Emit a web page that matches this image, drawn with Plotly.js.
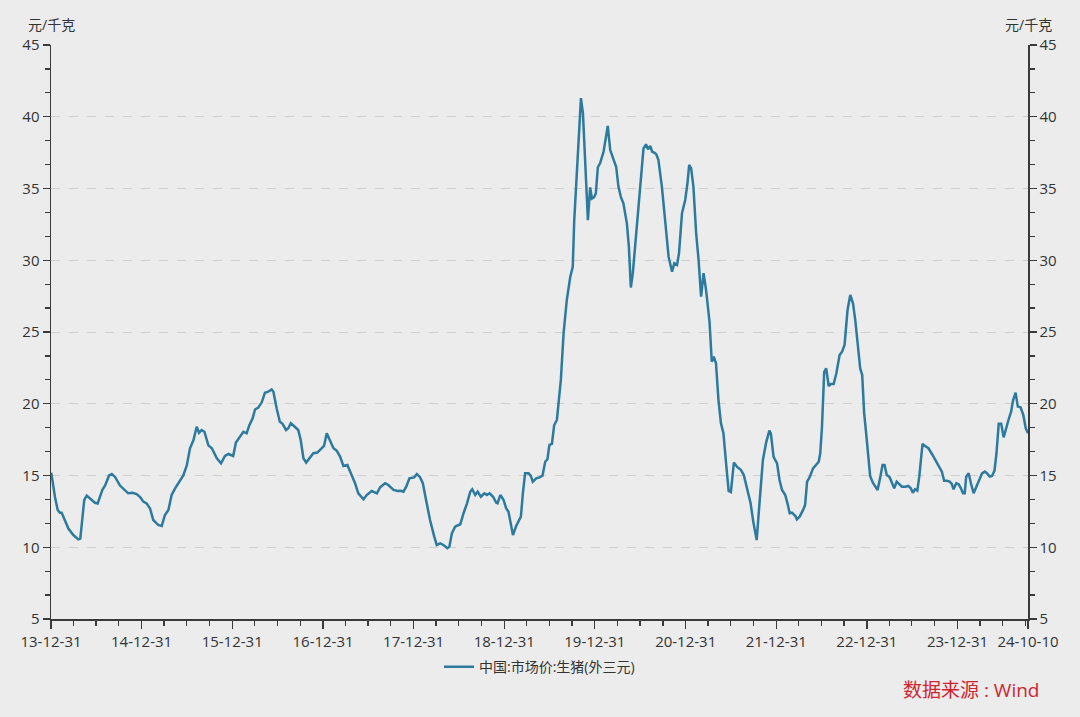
<!DOCTYPE html>
<html>
<head>
<meta charset="utf-8">
<script src="https://cdn.plot.ly/plotly-3.0.1.min.js"></script>
<style>
  html, body { margin: 0; padding: 0; background: #ececec; }
  #chart { width: 1080px; height: 717px; }
</style>
</head>
<body>
<div id="chart"></div>
<script>
// 中国:市场价:生猪(外三元), 元/千克
var d2014 = ['2014-01-01','2014-01-16','2014-01-27','2014-02-05','2014-02-12','2014-02-25','2014-03-11','2014-03-31','2014-04-20','2014-04-28','2014-05-06','2014-05-14','2014-05-24','2014-06-06','2014-06-26','2014-07-07','2014-07-16','2014-07-26','2014-08-06','2014-08-22','2014-09-02','2014-09-15','2014-10-05','2014-10-25','2014-11-07','2014-11-24','2014-12-11','2014-12-25'];
var v2014 = [15.2,13.5,12.6,12.4,12.4,11.9,11.3,10.85,10.55,10.6,11.9,13.3,13.6,13.4,13.1,13.05,13.5,14.0,14.3,15.0,15.1,14.9,14.3,14.0,13.76,13.8,13.7,13.5];

var d2015 = ['2015-01-07','2015-01-20','2015-02-03','2015-02-16','2015-03-08','2015-03-22','2015-04-04','2015-04-18','2015-05-01','2015-05-15','2015-06-04','2015-06-17','2015-07-01','2015-07-14','2015-07-28','2015-08-10','2015-08-19','2015-08-30','2015-09-10','2015-09-26','2015-10-10','2015-10-30','2015-11-16','2015-12-02','2015-12-16'];
var v2015 = [13.18,13.06,12.7,11.9,11.55,11.48,12.25,12.6,13.64,14.1,14.6,15.0,15.7,16.9,17.47,18.4,17.98,18.17,18.05,17.1,16.9,16.2,15.85,16.36,16.5];

var d2016 = ['2016-01-04','2016-01-15','2016-01-27','2016-02-14','2016-02-27','2016-03-09','2016-03-22','2016-04-01','2016-04-14','2016-04-28','2016-05-11','2016-05-24','2016-06-07','2016-06-14','2016-06-27','2016-07-10','2016-07-21','2016-08-04','2016-08-13','2016-08-23','2016-09-05','2016-09-22','2016-10-02','2016-10-13','2016-10-24','2016-11-09','2016-11-22','2016-12-08','2016-12-26'];
var v2016 = [16.36,17.3,17.6,18.05,17.94,18.5,18.97,19.6,19.73,20.1,20.77,20.84,21.0,20.84,19.68,18.75,18.6,18.17,18.29,18.64,18.45,18.17,17.47,16.2,15.9,16.27,16.55,16.6,16.9];

var d2017 = ['2017-01-04','2017-01-15','2017-01-28','2017-02-11','2017-02-24','2017-03-10','2017-03-23','2017-04-08','2017-04-22','2017-05-09','2017-05-22','2017-06-12','2017-06-25','2017-07-15','2017-08-05','2017-08-18','2017-09-07','2017-09-20','2017-10-11','2017-10-27','2017-11-09','2017-11-20','2017-12-01','2017-12-14'];
var v2017 = [17.06,17.94,17.47,16.9,16.73,16.3,15.66,15.73,15.15,14.46,13.76,13.34,13.64,13.92,13.76,14.18,14.46,14.34,14.0,13.92,13.94,13.87,14.22,14.8];

var d2018 = ['2018-01-02','2018-01-13','2018-01-25','2018-02-06','2018-02-19','2018-03-07','2018-03-24','2018-04-03','2018-04-17','2018-04-30','2018-05-16','2018-05-24','2018-06-03','2018-06-16','2018-06-30','2018-07-07','2018-07-20','2018-08-03','2018-08-16','2018-08-24','2018-09-05','2018-09-15','2018-09-28','2018-10-12','2018-10-22','2018-11-02','2018-11-16','2018-11-29','2018-12-04','2018-12-15','2018-12-28'];
var v2018 = [14.87,15.1,14.9,14.46,13.3,11.9,10.74,10.16,10.27,10.16,9.93,10.04,10.97,11.43,11.55,11.6,12.37,13.06,13.87,14.04,13.64,13.87,13.52,13.76,13.64,13.76,13.52,13.1,13.06,13.64,13.3];

var d2019 = ['2019-01-08','2019-01-17','2019-01-24','2019-02-04','2019-02-17','2019-02-26','2019-03-08','2019-03-16','2019-03-25','2019-04-08','2019-04-17','2019-04-25','2019-05-09','2019-05-22','2019-06-03','2019-06-14','2019-06-23','2019-07-01','2019-07-11','2019-07-20','2019-07-31','2019-08-06','2019-08-16','2019-08-27','2019-09-09','2019-09-23','2019-09-29','2019-10-03','2019-10-09','2019-10-17','2019-10-22','2019-10-29','2019-11-05','2019-11-13','2019-11-22','2019-11-26','2019-12-03','2019-12-12','2019-12-19','2019-12-28'];
var v2019 = [12.7,12.48,11.78,10.85,11.48,11.85,12.13,13.76,15.15,15.15,14.97,14.57,14.8,14.87,14.98,15.96,16.13,17.13,17.2,18.5,18.87,19.9,21.66,24.9,27.23,28.85,29.44,29.55,32.8,35.13,36.5,38.85,41.3,40.24,36.76,34.4,32.8,35.08,34.3,34.4];

var d2020 = ['2020-01-04','2020-01-12','2020-01-21','2020-02-04','2020-02-13','2020-02-21','2020-03-02','2020-03-15','2020-03-26','2020-04-04','2020-04-14','2020-04-24','2020-05-08','2020-05-16','2020-05-24','2020-06-01','2020-06-10','2020-06-24','2020-07-07','2020-07-14','2020-07-24','2020-08-01','2020-08-10','2020-08-18','2020-08-26','2020-09-03','2020-09-12','2020-09-26','2020-10-09','2020-10-23','2020-11-06','2020-11-15','2020-11-26','2020-12-04','2020-12-16','2020-12-29'];
var v2020 = [34.66,36.48,36.76,37.56,38.38,39.36,37.68,37.1,36.5,35.13,34.4,33.97,32.57,30.95,28.1,29.1,30.95,33.27,36.3,37.8,38.08,37.73,37.96,37.56,37.5,37.4,37.0,35.13,32.8,30.25,29.2,29.79,29.67,30.48,33.27,34.2];

var d2021 = ['2021-01-07','2021-01-14','2021-01-22','2021-01-31','2021-02-11','2021-02-21','2021-03-03','2021-03-13','2021-03-23','2021-04-06','2021-04-15','2021-04-23','2021-05-02','2021-05-12','2021-05-22','2021-06-01','2021-06-13','2021-06-22','2021-07-01','2021-07-13','2021-07-26','2021-08-10','2021-08-22','2021-09-05','2021-09-18','2021-09-30','2021-10-07','2021-10-13','2021-10-23','2021-10-27','2021-11-07','2021-11-20','2021-12-03','2021-12-09','2021-12-20'];
var v2021 = [35.36,36.64,36.4,35.13,31.9,30.0,27.46,29.1,27.93,25.7,22.93,23.28,22.82,20.26,18.64,17.94,15.6,13.93,13.85,15.9,15.6,15.4,15.03,14.1,13.1,11.7,10.97,10.5,12.8,13.76,16.08,17.29,18.13,17.94,16.3];

var d2022 = ['2022-01-03','2022-01-13','2022-01-23','2022-02-05','2022-02-14','2022-02-23','2022-03-04','2022-03-18','2022-03-24','2022-04-04','2022-04-18','2022-04-26','2022-05-04','2022-05-14','2022-05-28','2022-06-10','2022-06-20','2022-06-26','2022-07-03','2022-07-12','2022-07-20','2022-07-30','2022-08-08','2022-08-19','2022-08-30','2022-09-12','2022-09-22','2022-10-02','2022-10-14','2022-10-25','2022-11-05','2022-11-14','2022-11-25','2022-12-04','2022-12-12','2022-12-20','2022-12-28'];
var v2022 = [15.85,14.69,13.99,13.64,13.06,12.37,12.41,12.18,11.95,12.13,12.6,12.94,14.57,14.87,15.5,15.73,15.96,16.55,18.4,22.23,22.47,21.24,21.38,21.38,22.12,23.4,23.63,24.1,26.53,27.58,27.0,25.84,24.2,22.47,22.0,19.33,17.94];

var d2023 = ['2023-01-04','2023-01-13','2023-01-24','2023-02-02','2023-02-12','2023-02-22','2023-03-04','2023-03-12','2023-03-21','2023-04-01','2023-04-10','2023-04-20','2023-04-30','2023-05-11','2023-05-21','2023-06-03','2023-06-16','2023-06-26','2023-07-04','2023-07-13','2023-07-22','2023-07-30','2023-08-05','2023-08-12','2023-08-22','2023-09-05','2023-09-19','2023-10-02','2023-10-15','2023-10-29','2023-11-07','2023-11-18','2023-11-29','2023-12-08','2023-12-15','2023-12-26'];
var v2023 = [16.55,14.97,14.5,14.22,13.99,14.8,15.73,15.73,15.03,14.9,14.46,14.11,14.57,14.41,14.22,14.22,14.27,14.11,13.8,14.04,13.94,14.92,16.08,17.2,17.06,16.9,16.5,16.08,15.62,15.27,14.64,14.64,14.57,14.41,14.04,14.46];

var d2024 = ['2024-01-04','2024-01-14','2024-01-22','2024-01-29','2024-02-04','2024-02-14','2024-02-23','2024-03-05','2024-03-19','2024-03-29','2024-04-08','2024-04-19','2024-04-28','2024-05-09','2024-05-18','2024-05-28','2024-06-05','2024-06-14','2024-06-24','2024-07-04','2024-07-15','2024-07-25','2024-08-03','2024-08-11','2024-08-21','2024-08-30','2024-09-10','2024-09-21','2024-10-01','2024-10-10'];
var v2024 = [14.41,14.11,13.76,13.76,14.92,15.15,14.46,13.76,14.34,14.73,15.15,15.27,15.15,14.92,14.97,15.34,16.55,18.6,18.6,17.66,18.4,18.97,19.45,20.26,20.77,19.8,19.75,19.22,18.29,17.94];

var xTickVals = ['2013-12-31','2014-12-31','2015-12-31','2016-12-31','2017-12-31','2018-12-31','2019-12-31','2020-12-31','2021-12-31','2022-12-31','2023-12-31','2024-10-10'];
var xTickText = ['13-12-31','14-12-31','15-12-31','16-12-31','17-12-31','18-12-31','19-12-31','20-12-31','21-12-31','22-12-31','23-12-31','24-10-10'];
var seriesName = '中国:市场价:生猪(外三元)';

var dates = [].concat(d2014, d2015, d2016, d2017, d2018, d2019, d2020, d2021, d2022, d2023, d2024);
var prices = [].concat(v2014, v2015, v2016, v2017, v2018, v2019, v2020, v2021, v2022, v2023, v2024);

// quarterly minor ticks on the date axis
var minorVals = [];
for (var yr = 2014; yr <= 2024; yr++) {
  ['-03-31', '-06-30', '-09-30'].forEach(function (md) { minorVals.push(yr + md); });
}

var axisColor = '#3a3a3a';
var fontFam = '"Open Sans", "Noto Sans CJK SC", sans-serif';

var yCommon = {
  range: [5, 45],
  tickmode: 'linear', tick0: 5, dtick: 5,
  ticks: 'outside', ticklen: 7, tickwidth: 1.3, tickcolor: axisColor,
  showline: true, linecolor: axisColor, linewidth: 1.5,
  tickfont: { size: 15, color: '#333', family: fontFam },
  minor: { dtick: 5 / 3, tick0: 5, ticks: 'outside', ticklen: 5, tickwidth: 1.3, tickcolor: axisColor, showgrid: false },
  zeroline: false,
  fixedrange: true
};

var trace = {
  x: dates,
  y: prices,
  type: 'scatter',
  mode: 'lines',
  name: seriesName,
  line: { color: '#2c7a9e', width: 2.5 }
};

var layout = {
  width: 1080, height: 717,
  paper_bgcolor: '#ececec',
  plot_bgcolor: '#ececec',
  margin: { l: 51, r: 52, t: 45, b: 98 },
  font: { family: fontFam, color: '#333' },
  showlegend: true,
  legend: {
    orientation: 'h', x: 0.5, xanchor: 'center', y: -0.084, yanchor: 'middle',
    font: { size: 14, color: '#333', family: fontFam },
    bgcolor: 'rgba(0,0,0,0)'
  },
  xaxis: {
    type: 'date',
    range: ['2013-12-31', '2024-10-10'],
    tickmode: 'array', tickvals: xTickVals, ticktext: xTickText,
    ticks: 'outside', ticklen: 8, tickwidth: 1.3, tickcolor: axisColor,
    minor: { tickmode: 'array', tickvals: minorVals, ticks: 'outside', ticklen: 5, tickwidth: 1.3, tickcolor: axisColor, showgrid: false },
    showline: true, linecolor: axisColor, linewidth: 1.5,
    showgrid: false, zeroline: false,
    tickfont: { size: 15, color: '#333', family: fontFam },
    tickangle: 0
  },
  yaxis: Object.assign({}, yCommon, {
    side: 'left',
    showgrid: true, gridcolor: '#cfcfcf', griddash: 'dash', gridwidth: 1
  }),
  yaxis2: Object.assign({}, yCommon, {
    side: 'right', overlaying: 'y', showgrid: false
  }),
  annotations: [
    { text: '元/千克', xref: 'paper', yref: 'paper', x: 0, y: 1.035, xanchor: 'center', yanchor: 'middle',
      showarrow: false, font: { size: 14, color: '#333', family: fontFam } },
    { text: '元/千克', xref: 'paper', yref: 'paper', x: 1, y: 1.035, xanchor: 'center', yanchor: 'middle',
      showarrow: false, font: { size: 14, color: '#333', family: fontFam } },
    { text: '数据来源 : Wind', xref: 'paper', yref: 'paper', x: 0.942, y: -0.124, xanchor: 'center', yanchor: 'middle',
      showarrow: false, font: { size: 19, color: '#cf2530', family: fontFam } }
  ]
};

// right axis carries a hidden copy so it gets drawn
var mirror = { x: dates, y: prices, type: 'scatter', mode: 'lines', yaxis: 'y2', showlegend: false,
  hoverinfo: 'skip', line: { color: 'rgba(0,0,0,0)', width: 0 } };

Plotly.newPlot('chart', [mirror, trace], layout, { displayModeBar: false, staticPlot: true });
</script>
</body>
</html>
